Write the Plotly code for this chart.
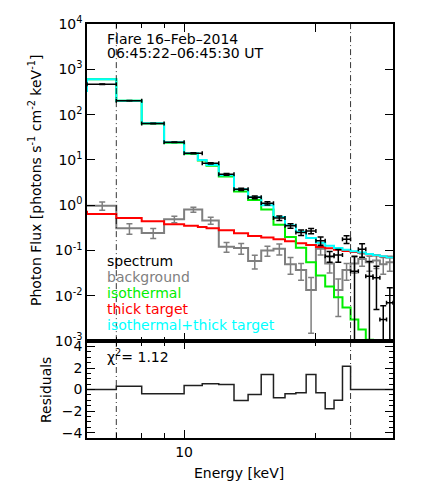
import numpy as np
import plotly.graph_objects as go

# ---------------- data ----------------
data_edges = [6, 7, 8, 9, 10, 11, 12, 13, 14, 15, 16, 17, 18, 19, 20, 21, 22, 23, 24, 25, 26, 27, 28, 29, 30]
spec_flux = [467, 203, 64, 24.5, 14.0, 8.4, 4.8, 2.24, 1.49, 1.10, 0.52, 0.35, 0.25, 0.27,
             0.164, 0.075, 0.08, 0.178, 0.035, 0.106, 0.027, 0.025, 0.003, 0.007]
spec_err = [4, 2, 0.8, 0.4, 0.3, 0.3, 0.2, 0.12, 0.1, 0.09, 0.06, 0.04, 0.035, 0.035,
            0.035, 0.02, 0.025, 0.035, 0.04, 0.035, 0.03, 0.02, 0.003, 0.008]
bkg_flux = [0.975, 0.31, 0.245, 0.49, 0.80, 0.46, 0.121, 0.113, 0.059, 0.10, 0.11, 0.05,
            0.037, 0.0135, 0.11, 0.052, 0.0135, 0.037, 0.052, 0.065, 0.055, 0.06, 0.05, 0.055]
bkg_err = [0.2, 0.08, 0.06, 0.08, 0.1, 0.08, 0.03, 0.03, 0.02, 0.025, 0.03, 0.02,
           0.015, 0.012, 0.03, 0.02, 0.01, 0.015, 0.02, 0.02, 0.02, 0.02, 0.02, 0.02]

model_edges = [5, 6, 7, 8, 9, 10, 10.75, 11.25, 12, 13, 14, 15, 16, 17, 18, 19, 20, 21, 22,
               23, 24, 25, 26, 27, 28, 29, 30]
iso_flux = [330, 600, 203, 64, 24, 13.6, 9.7, 7.4, 4.3, 2.0, 1.3, 0.8, 0.37, 0.2, 0.115,
            0.055, 0.028, 0.016, 0.0093, 0.0055, 0.003, 0.0018, 0.00107, 0.00098, 0.0005, 0.0003]
thick_flux = [0.72, 0.64, 0.52, 0.44, 0.38, 0.35, 0.33, 0.31, 0.28, 0.24, 0.21, 0.195, 0.178,
              0.16, 0.145, 0.132, 0.12, 0.112, 0.104, 0.098, 0.093, 0.088, 0.083, 0.078, 0.074, 0.07]
total_flux = [330, 600, 203, 64.5, 24.5, 14, 10, 7.7, 4.6, 2.25, 1.5, 1.0, 0.55, 0.36, 0.26,
              0.19, 0.148, 0.128, 0.113, 0.104, 0.096, 0.09, 0.084, 0.079, 0.075, 0.07]

resid_edges = [6, 7, 8, 9, 10, 11, 12, 13, 14, 15, 16, 17, 18, 19, 20, 21, 22, 23, 24, 30]
residuals = [0, 0.3, -0.4, -0.4, 0.37, 0.55, 0.46, -1.02, -0.46, 1.39, -0.77, -0.4, -0.3,
             1.39, -0.3, -1.79, -0.99, 2.16, 0]

fit_range = [7, 24]
chi2 = 1.12
title_lines = ["Flare 16\u2013Feb\u20132014", "06:45:22\u201306:45:30 UT"]
legend_items = [("spectrum", "black"), ("background", "#7f7f7f"), ("isothermal", "#00ee00"),
                ("thick target", "#ff0000"), ("isothermal+thick target", "#00ffff")]
main_ticks = [1e-3, 1e-2, 1e-1, 1e0, 1e1, 1e2, 1e3, 1e4]
main_ticktext = ["10<sup>-3</sup>", "10<sup>-2</sup>", "10<sup>-1</sup>", "10<sup>0</sup>",
                 "10<sup>1</sup>", "10<sup>2</sup>", "10<sup>3</sup>", "10<sup>4</sup>"]
res_ticks = [-4, -2, 0, 2, 4]
res_ticktext = ["\u22124", "\u22122", "0", "2", "4"]
x_range = [6, 30]
y_range = [1e-3, 1e4]
res_range = [-4.5, 4.5]

FONT = "DejaVu Sans, Liberation Sans, Arial, sans-serif"
PAGE_OFFSET = 8  # default body margin of the html page


def steps(edges, vals):
    return list(edges), list(vals) + [vals[-1]]


def centers(edges):
    e = np.array(edges, dtype=float)
    return (e[:-1] + e[1:]) / 2, (e[1:] - e[:-1]) / 2


fig = go.Figure()

# background histogram + error bars
bx, by = steps(data_edges, bkg_flux)
fig.add_trace(go.Scatter(x=bx, y=by, mode="lines", line=dict(color="#7f7f7f", width=2, shape="hv"),
                         xaxis="x", yaxis="y", hoverinfo="skip"))
cx, hw = centers(data_edges)
fig.add_trace(go.Scatter(x=cx, y=bkg_flux, mode="markers", marker=dict(size=1, color="#7f7f7f"),
                         error_y=dict(type="data", array=bkg_err, color="#7f7f7f", thickness=1.5, width=3),
                         xaxis="x", yaxis="y"))

# models
for vals, col in [(thick_flux, "#ff0000"), (iso_flux, "#00ee00"), (total_flux, "#00ffff")]:
    mx, my = steps(model_edges, vals)
    fig.add_trace(go.Scatter(x=mx, y=my, mode="lines", line=dict(color=col, width=2, shape="hv"),
                             xaxis="x", yaxis="y"))

# spectrum
fig.add_trace(go.Scatter(x=cx, y=spec_flux, mode="markers", marker=dict(size=1, color="black"),
                         error_x=dict(type="data", array=hw, color="black", thickness=1.5, width=2),
                         error_y=dict(type="data", array=spec_err, color="black", thickness=1.5, width=3),
                         xaxis="x", yaxis="y"))

# fit range lines
for e in fit_range:
    fig.add_trace(go.Scatter(x=[e, e], y=y_range, mode="lines",
                             line=dict(color="black", width=0.8, dash="6px,3px,1px,3px"),
                             xaxis="x", yaxis="y"))
    fig.add_trace(go.Scatter(x=[e, e], y=res_range, mode="lines",
                             line=dict(color="black", width=0.8, dash="6px,3px,1px,3px"),
                             xaxis="x2", yaxis="y2"))

# residuals
rx, ry = steps(resid_edges, residuals)
fig.add_trace(go.Scatter(x=rx, y=ry, mode="lines", line=dict(color="#202020", width=1.5, shape="hv"),
                         xaxis="x2", yaxis="y2"))

axis_common = dict(showline=True, linecolor="black", linewidth=1.5, mirror="ticks", ticks="inside",
                   tickcolor="black", showgrid=False, zeroline=False,
                   tickfont=dict(family=FONT, size=14, color="black"))
lx = [np.log10(x_range[0]), np.log10(x_range[1])]
# plot area in page pixels: x 87..393, y 24..438
fig.update_layout(
    width=436 - PAGE_OFFSET, height=488 - PAGE_OFFSET,
    margin=dict(l=87 - PAGE_OFFSET, r=43, t=24 - PAGE_OFFSET, b=50, autoexpand=False),
    paper_bgcolor="white", plot_bgcolor="white",
    showlegend=False,
    xaxis=dict(type="log", range=lx, domain=[0, 1], anchor="y", showticklabels=False,
               tickvals=[10, 20], ticklen=8, tickwidth=1,
               minor=dict(tickvals=[7, 8, 9], ticklen=4, ticks="inside", tickcolor="black"),
               **axis_common),
    yaxis=dict(type="log", range=[-3, 4], domain=[0.234, 1], anchor="x",
               tickvals=main_ticks, ticktext=main_ticktext, ticklen=8, **axis_common),
    xaxis2=dict(type="log", range=lx, domain=[0, 1], anchor="y2",
                tickvals=[10], ticktext=["10"], ticklen=8,
                minor=dict(tickvals=[7, 8, 9, 20], ticklen=5, ticks="inside", tickcolor="black"),
                **axis_common),
    yaxis2=dict(range=res_range, domain=[0, 0.234], anchor="x2",
                tickvals=res_ticks, ticktext=res_ticktext, ticklen=8,
                minor=dict(dtick=0.5, ticklen=4, ticks="inside", tickcolor="black"),
                **axis_common),
)

ann = []


def px2paper(xp, yp):
    return (xp - 87) / 306, (438 - yp) / 414


for i, t in enumerate(title_lines):
    x, y = px2paper(105, 39 + 14 * i)
    ann.append(dict(text=t, x=x, y=y, xref="paper", yref="paper", xanchor="left", yanchor="middle",
                    showarrow=False, font=dict(family=FONT, size=14, color="black")))
for i, (t, c) in enumerate(legend_items):
    x, y = px2paper(105, 261 + 16 * i)
    ann.append(dict(text=t, x=x, y=y, xref="paper", yref="paper", xanchor="left", yanchor="middle",
                    showarrow=False, font=dict(family=FONT, size=14, color=c)))
x, y = px2paper(105, 356)
ann.append(dict(text="\u03c7<sup>2</sup>= %.2f" % chi2, x=x, y=y, xref="paper", yref="paper",
                xanchor="left", yanchor="middle", showarrow=False,
                font=dict(family=FONT, size=14, color="black")))
x, y = px2paper(35, 181)
ann.append(dict(text="Photon Flux [photons s<sup>-1</sup> cm<sup>-2</sup> keV<sup>-1</sup>]",
                x=x, y=y, xref="paper", yref="paper", xanchor="center", yanchor="middle",
                textangle=-90, showarrow=False, font=dict(family=FONT, size=14, color="black")))
x, y = px2paper(46, 390)
ann.append(dict(text="Residuals", x=x, y=y, xref="paper", yref="paper", xanchor="center",
                yanchor="middle", textangle=-90, showarrow=False,
                font=dict(family=FONT, size=14, color="black")))
x, y = px2paper(239, 473)
ann.append(dict(text="Energy [keV]", x=x, y=y, xref="paper", yref="paper", xanchor="center",
                yanchor="middle", showarrow=False, font=dict(family=FONT, size=14, color="black")))
fig.update_layout(annotations=ann)

fig.write_html("out.html")
